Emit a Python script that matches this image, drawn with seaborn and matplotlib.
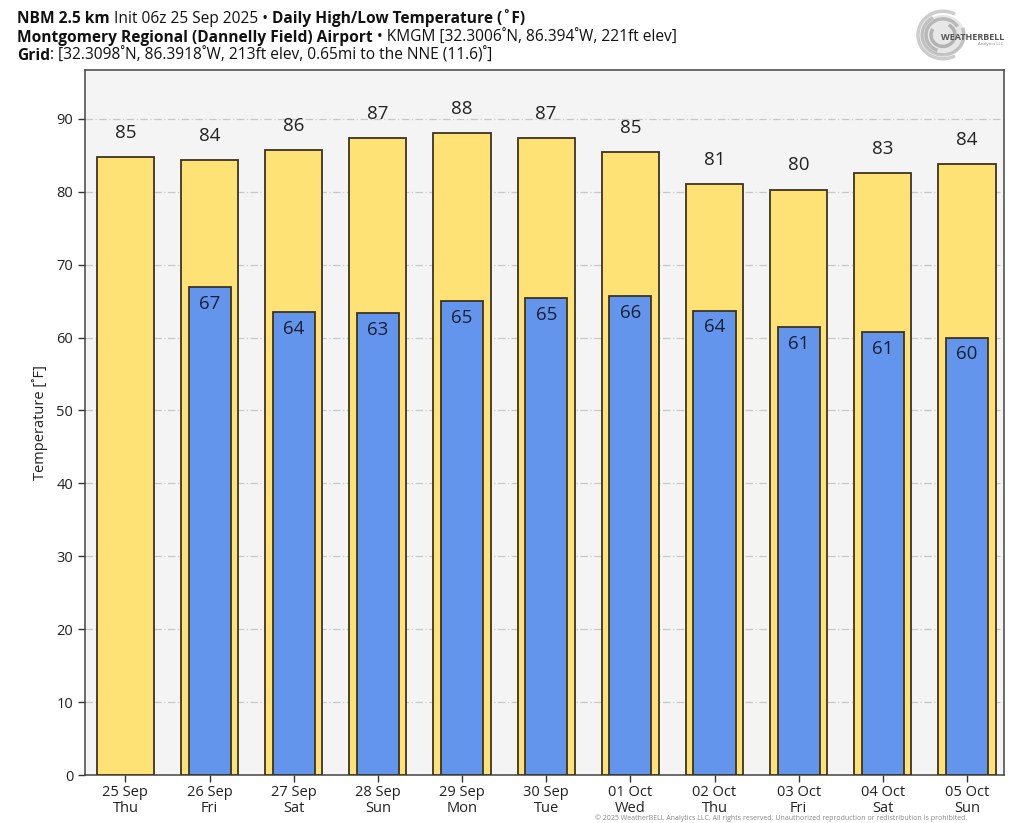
import matplotlib
matplotlib.use("Agg")
import matplotlib.pyplot as plt
from matplotlib.patches import Ellipse, Arc
import numpy as np
import pandas as pd
import seaborn as sns

# days on the x axis
dates = ["25 Sep", "26 Sep", "27 Sep", "28 Sep", "29 Sep", "30 Sep",
         "01 Oct", "02 Oct", "03 Oct", "04 Oct", "05 Oct"]
weekdays = ["Thu", "Fri", "Sat", "Sun", "Mon", "Tue",
            "Wed", "Thu", "Fri", "Sat", "Sun"]
# daily high / low (deg F)
highs = [84.7, 84.3, 85.7, 87.4, 88.0, 87.4, 85.4, 81.0, 80.3, 82.6, 83.8]
lows = [np.nan, 66.9, 63.5, 63.4, 65.0, 65.4, 65.7, 63.7, 61.4, 60.7, 60.0]

sns.set_style("white")
plt.rcParams['font.family'] = ['Open Sans', 'DejaVu Sans']

df = pd.DataFrame({"day": dates, "high": highs, "low": lows})

fig = plt.figure(figsize=(10.24, 8.23), dpi=100)
fig.patch.set_facecolor("white")
ax = fig.add_axes([0.083, 0.0583, 0.8975, 0.8567])
ax.set_facecolor("#f4f4f4")

edge = "#3d3322"
sns.barplot(data=df, x="day", y="high", order=dates, color="#ffe276",
            width=0.68, edgecolor=edge, linewidth=1.3, saturation=1, ax=ax, zorder=3)
sns.barplot(data=df.dropna(), x="day", y="low", order=dates, color="#6495ec",
            width=0.5, edgecolor=edge, linewidth=1.3, saturation=1, ax=ax, zorder=4)

# value labels
for i, (h, l) in enumerate(zip(highs, lows)):
    ax.text(i, h + 3.3, f"{h:.0f}", ha="center", va="center", fontsize=13.5,
            color="#222222", zorder=5)
    if not np.isnan(l):
        ax.text(i, l - 2.3, f"{l:.0f}", ha="center", va="center", fontsize=13.5,
                color="#1a1f33", zorder=5)

ax.set_xlim(-0.48, 10.44)
ax.set_ylim(0, 96.7)
ax.set_yticks(range(0, 100, 10))
ax.yaxis.grid(True, color="#c8c8c8", linestyle=(0, (6, 2, 1, 2)), linewidth=0.9, zorder=0)
ax.set_axisbelow(True)
ax.set_xticks(range(len(dates)))
ax.set_xticklabels([f"{d}\n{w}" for d, w in zip(dates, weekdays)],
                   fontsize=10.5, linespacing=1.1, color="#222222")
ax.tick_params(axis="y", labelsize=10.5, labelcolor="#222222", left=True,
               length=5, width=1, color="#333333")
ax.tick_params(axis="x", bottom=True, length=5, width=1, color="#333333", pad=2)
ax.set_xlabel("")
ax.set_ylabel("Temperature [˚F]", fontsize=10.5, color="#222222", labelpad=6)
for s in ax.spines.values():
    s.set_color("#444444")
    s.set_linewidth(1.1)

# header lines, mixing bold and regular pieces
renderer = fig.canvas.get_renderer()
def chain(y, parts):
    x = 17
    for txt, bold in parts:
        t = fig.text(x / 1024, y, txt, fontsize=11.2,
                     fontweight="bold" if bold else "normal",
                     color="#111111", va="baseline", ha="left")
        x += t.get_window_extent(renderer).width

chain(1 - 23 / 823, [("NBM 2.5 km", True), (" Init 06z 25 Sep 2025 • ", False),
                     ("Daily High/Low Temperature (˚F)", True)])
chain(1 - 42 / 823, [("Montgomery Regional (Dannelly Field) Airport", True),
                     (" • KMGM [32.3006˚N, 86.394˚W, 221ft elev]", False)])
chain(1 - 60 / 823, [("Grid", True),
                     (": [32.3098˚N, 86.3918˚W, 213ft elev, 0.65mi to the NNE (11.6)˚]", False)])

# logo approximation
lax = fig.add_axes([905 / 1024, 1 - 64 / 823, 100 / 1024, 58 / 823])
lax.set_xlim(0, 100)
lax.set_ylim(0, 58)
lax.axis("off")
lax.add_patch(Ellipse((38, 29), 44, 40, color="#d0d0d0", alpha=0.5, linewidth=0))
for r, a, t1, t2 in [(25, 0.55, 60, 300), (21, 0.6, 120, 380), (17, 0.7, 30, 250), (12, 0.8, 150, 420)]:
    lax.add_patch(Arc((38, 29), r * 2, r * 1.9, theta1=t1, theta2=t2,
                      edgecolor="#a5a5a5", alpha=a, linewidth=2.5))
lax.text(68, 27, "WEATHERBELL", fontsize=6.5, color="#555555", ha="center",
         va="center", fontweight="bold")
lax.text(86, 20, "Analytics LLC", fontsize=3, color="#888888", ha="center", va="center")

# footer
fig.text(595 / 1024, 1 / 823, "© 2025 WeatherBELL Analytics LLC. All rights reserved. "
         "Unauthorized reproduction or redistribution is prohibited.",
         fontsize=5, color="#888888", va="bottom", ha="left")

fig.savefig("out.png", dpi=100, facecolor=fig.get_facecolor())
